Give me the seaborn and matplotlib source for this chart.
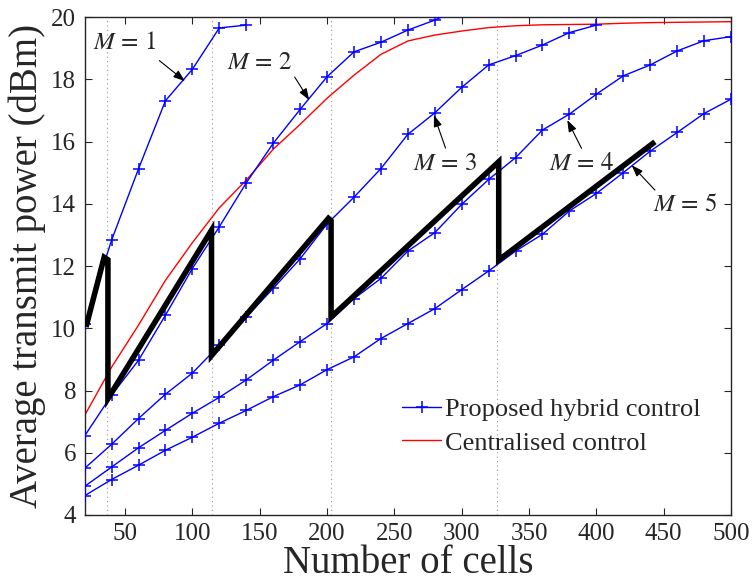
import numpy as np
import pandas as pd
import matplotlib
matplotlib.use("Agg")
import matplotlib.pyplot as plt
import seaborn as sns

# number of cells (x grid of the simulations)
cells = [20, 40, 60, 80, 100, 120, 140, 160, 180, 200, 220, 240, 260, 280, 300,
         320, 340, 360, 380, 400, 420, 440, 460, 480, 500]

# proposed hybrid control, one curve per number of clusters M
hybrid_m1 = [10.13, 12.83, 15.12, 17.31, 18.32, 19.65, 19.74]
hybrid_m2 = [6.54, 7.85, 8.97, 10.42, 11.92, 13.26, 14.67, 15.94, 17.03, 18.08,
             18.88, 19.19, 19.58, 19.90, 20.30]
hybrid_m3 = [5.50, 6.27, 7.10, 7.88, 8.56, 9.45, 10.36, 11.28, 12.23, 13.35,
             14.21, 15.13, 16.23, 16.92, 17.74, 18.46, 18.76, 19.10, 19.50, 19.74]
hybrid_m4 = [4.92, 5.54, 6.16, 6.72, 7.27, 7.78, 8.34, 8.97, 9.57, 10.15,
             10.95, 11.60, 12.48, 13.07, 13.98, 14.78, 15.48, 16.37, 16.88, 17.52,
             18.11, 18.46, 18.91, 19.24, 19.37]
hybrid_m5 = [4.62, 5.14, 5.60, 6.08, 6.50, 6.95, 7.36, 7.80, 8.18, 8.67,
             9.08, 9.67, 10.15, 10.63, 11.24, 11.84, 12.48, 13.02, 13.77, 14.33,
             15.00, 15.69, 16.29, 16.90, 17.36]

# centralised control
central = [7.20, 8.75, 10.10, 11.54, 12.75, 13.87, 14.76, 15.75, 16.55, 17.39,
           18.13, 18.80, 19.23, 19.42, 19.55, 19.66, 19.72, 19.75, 19.76, 19.77,
           19.80, 19.82, 19.83, 19.84, 19.85]

# switching points between M values (dotted lines) and selected-M path (thick black)
switch_cells = [36.6, 114.4, 203, 326]
path_x = [21, 34.5, 37.3, 37.3, 114.2, 114.2, 201, 203, 203, 327.5, 327.5, 443.5]
path_y = [10.04, 12.28, 12.2, 7.74, 13.15, 9.12, 13.53, 13.45, 10.36, 15.35, 12.19, 15.99]

m_labels = ["$M\\,=\\,1$", "$M\\,=\\,2$", "$M\\,=\\,3$", "$M\\,=\\,4$", "$M\\,=\\,5$"]

sns.set_style("ticks")
plt.rcParams['font.family'] = ['Liberation Serif', 'DejaVu Serif']
plt.rcParams['mathtext.fontset'] = 'stix'
plt.rcParams['xtick.direction'] = 'in'
plt.rcParams['ytick.direction'] = 'in'

fig = plt.figure(figsize=(7.53, 5.81), dpi=100)
ax = fig.add_axes([0.1124, 0.1136, 0.8584, 0.8571])

for xs in switch_cells:
    ax.axvline(xs, color='#999999', lw=0.8, ls=(0, (1, 3)), zorder=1)

hybrid_all = [hybrid_m1, hybrid_m2, hybrid_m3, hybrid_m4, hybrid_m5]
for i, ys in enumerate(hybrid_all):
    df = pd.DataFrame({'cells': cells[:len(ys)], 'power': ys})
    sns.lineplot(data=df, x='cells', y='power', ax=ax, color='#0000ff', lw=1.0,
                 marker='+', markersize=8, markeredgewidth=1.1,
                 markeredgecolor='#0000ff',
                 label='Proposed hybrid control' if i == 0 else None, zorder=3)

df_c = pd.DataFrame({'cells': cells, 'power': central})
sns.lineplot(data=df_c, x='cells', y='power', ax=ax, color='#ff0000', lw=1.0,
             label='Centralised control', zorder=2)

ax.plot(path_x, path_y, color='black', lw=4, solid_joinstyle='miter',
        solid_capstyle='butt', zorder=4)

# annotations for M
arrow_kw = dict(arrowstyle='-|>,head_length=0.7,head_width=0.25', color='black',
                lw=0.8, shrinkA=0, shrinkB=0)
ann = [
    # label, text xy, arrow tail, arrow tip
    (m_labels[0], (50, 19.16), (75.5, 18.6), (94.5, 17.94)),
    (m_labels[1], (150, 18.52), (176, 18.07), (186.8, 17.33)),
    (m_labels[2], (287.6, 15.27), (288, 15.79), (279.4, 16.85)),
    (m_labels[3], (389.3, 15.27), (389, 15.78), (378.4, 16.69)),
    (m_labels[4], (465.7, 13.95), (443.5, 14.44), (426.2, 15.24)),
]
for txt, pos, tail, tip in ann:
    ax.annotate('', xy=tip, xytext=tail, arrowprops=arrow_kw, zorder=5)
    ax.text(pos[0], pos[1], txt, fontsize=18, ha='center', va='center', zorder=5)

ax.set_xlim(20, 500)
ax.set_ylim(4, 20)
ax.set_xticks([50, 100, 150, 200, 250, 300, 350, 400, 450, 500])
ax.set_yticks([4, 6, 8, 10, 12, 14, 16, 18, 20])
ax.tick_params(axis='both', labelsize=18, length=5, width=0.8,
               top=True, right=True, pad=6)
for s in ax.spines.values():
    s.set_linewidth(1.0)
    s.set_visible(True)

ax.set_xlabel('Number of cells', fontsize=28, labelpad=0)
ax.set_ylabel('Average transmit power (dBm)', fontsize=28, labelpad=4)

ax.legend(loc='lower right', bbox_to_anchor=(0.97, 0.10), frameon=False,
          fontsize=19, handlelength=1.5, handletextpad=0.15, labelspacing=0.38,
          borderaxespad=0)

plt.savefig('out.png', dpi=100)
